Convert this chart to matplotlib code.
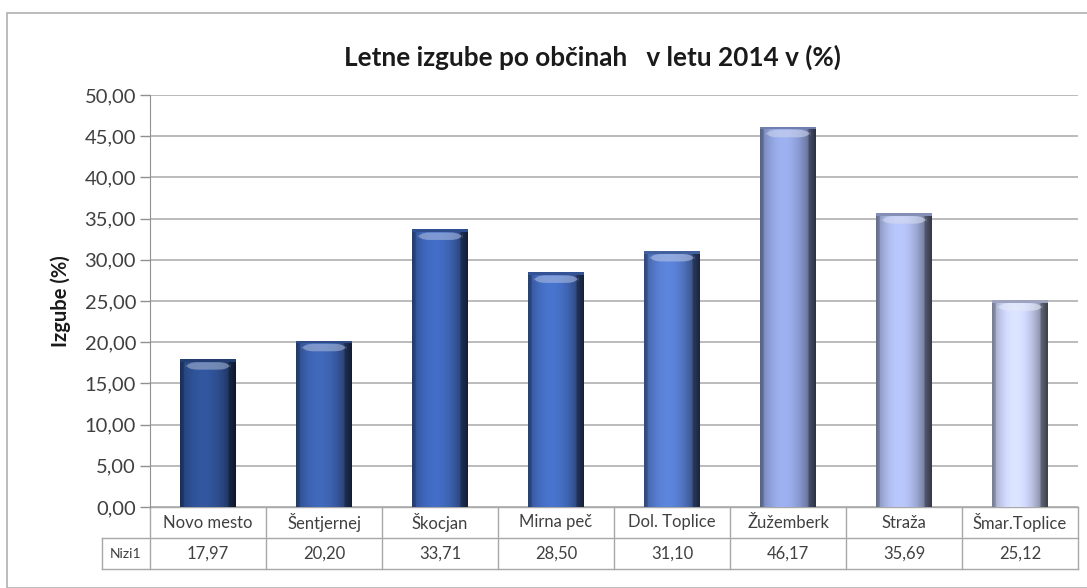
import numpy as np
import matplotlib
matplotlib.use("Agg")
import matplotlib.pyplot as plt
from matplotlib.patches import Rectangle, FancyBboxPatch
from matplotlib.colors import to_rgb

categories = ["Novo mesto", "Šentjernej", "Škocjan", "Mirna peč", "Dol. Toplice",
              "Žužemberk", "Straža", "Šmar.Toplice"]
values = [17.97, 20.20, 33.71, 28.50, 31.10, 46.17, 35.69, 25.12]
series_name = "Nizi1"
bar_colors = ["#2d4e8f", "#3a5ea8", "#3c62b2", "#4168b9", "#5377c5",
              "#8d9fd8", "#a6b3e2", "#c5cdef"]
title = "Letne izgube po občinah   v letu 2014 v (%)"
ylabel = "Izgube (%)"

plt.rcParams['font.family'] = ['Lato', 'DejaVu Sans']

W, H = 1087, 588
fig = plt.figure(figsize=(W / 100, H / 100), dpi=100)
fig.patch.set_facecolor("white")

# outer chart border
fig.add_artist(Rectangle((7 / W, 0), 1.2, 1 - 13 / H, transform=fig.transFigure,
                         fill=False, edgecolor="#b0b0b0", linewidth=1.2))

ax_l, ax_r, ax_t, ax_b = 150, 1078, 95, 507
ax = fig.add_axes([ax_l / W, 1 - ax_b / H, (ax_r - ax_l) / W, (ax_b - ax_t) / H])
ax.set_facecolor("white")

n = len(categories)
x = np.arange(n)
ax.set_xlim(-0.5, n - 0.5)
ax.set_ylim(0, 50)
ax.set_yticks(np.arange(0, 50.01, 5))
ax.set_yticklabels([f"{v:.2f}".replace(".", ",") for v in np.arange(0, 50.01, 5)],
                   fontsize=14.5, color="#404040")
ax.tick_params(axis="y", length=7, width=1, color="#909090", pad=3)
ax.set_xticks([])
ax.grid(axis="y", color="#a8a8a8", linewidth=1.1)
ax.set_axisbelow(True)
for s in ["top", "right", "bottom"]:
    ax.spines[s].set_visible(False)
ax.spines["left"].set_color("#909090")

bars = ax.bar(x, values, width=0.48, color=bar_colors, zorder=2, linewidth=0)

# cylindrical shading
nx = 60
u = np.linspace(0, 1, nx)
shade = 1.12 - 0.9 * (u - 0.42) ** 2 * 2.2
shade[u < 0.06] *= 0.8
shade[u > 0.88] *= 0.7
for b, c in zip(bars, bar_colors):
    rgb = np.array(to_rgb(c))
    img = np.clip(rgb[None, None, :] * shade[None, :, None], 0, 1)
    img = np.repeat(img, 2, axis=0)
    bx, bw, bh = b.get_x(), b.get_width(), b.get_height()
    im = ax.imshow(img, extent=[bx, bx + bw, 0, bh], aspect="auto", zorder=3,
                   interpolation="bilinear")
    im.set_clip_path(b)
    # top highlight cap
    cap_h = 0.9
    hl = np.clip(rgb * 0.45 + 0.55, 0, 1)
    cap = FancyBboxPatch((bx + bw * 0.1, bh - cap_h - 0.4), bw * 0.8, cap_h,
                         boxstyle="round,pad=0,rounding_size=0.1",
                         mutation_aspect=8, facecolor=hl, edgecolor="none",
                         alpha=0.6, zorder=4)
    ax.add_patch(cap)
    ax.add_patch(Rectangle((bx, bh - 0.35), bw, 0.35, facecolor=np.clip(rgb * 0.8, 0, 1),
                           edgecolor="none", zorder=4))

fig.text(592 / W, 1 - 57 / H, title, fontsize=18.8, fontweight="bold",
         color="#1a1a1a", ha="center", va="center")
ax.set_ylabel(ylabel, fontsize=14.5, fontweight="bold", color="#1a1a1a", labelpad=10)

# data table below the axis
px_h = ax_b - ax_t
r1 = -(538 - ax_b) / px_h
r2 = -(569 - ax_b) / px_h
lab_left = -0.5 - (ax_l - 102) / (ax_r - ax_l) * n
tc = "#a8a8a8"
tkw = dict(color=tc, linewidth=1, clip_on=False, zorder=1)
tr = ax.get_xaxis_transform()
ax.plot([-0.5, n - 0.5], [0, 0], transform=tr, **tkw)
ax.plot([lab_left, n - 0.5], [r1, r1], transform=tr, **tkw)
ax.plot([lab_left, n - 0.5], [r2, r2], transform=tr, **tkw)
for i in range(n + 1):
    ax.plot([i - 0.5, i - 0.5], [0, r2], transform=tr, **tkw)
ax.plot([lab_left, lab_left], [r1, r2], transform=tr, **tkw)
for i, (cat, v) in enumerate(zip(categories, values)):
    ax.text(i, r1 / 2, cat, transform=tr, ha="center",
            va="center", fontsize=12, color="#404040")
    ax.text(i, (r1 + r2) / 2, f"{v:.2f}".replace(".", ","),
            transform=tr, ha="center", va="center",
            fontsize=12, color="#404040")
ax.text((lab_left - 0.5) / 2, (r1 + r2) / 2, series_name,
        transform=tr, ha="center", va="center",
        fontsize=10, color="#404040")

fig.savefig("out.png", dpi=100)
